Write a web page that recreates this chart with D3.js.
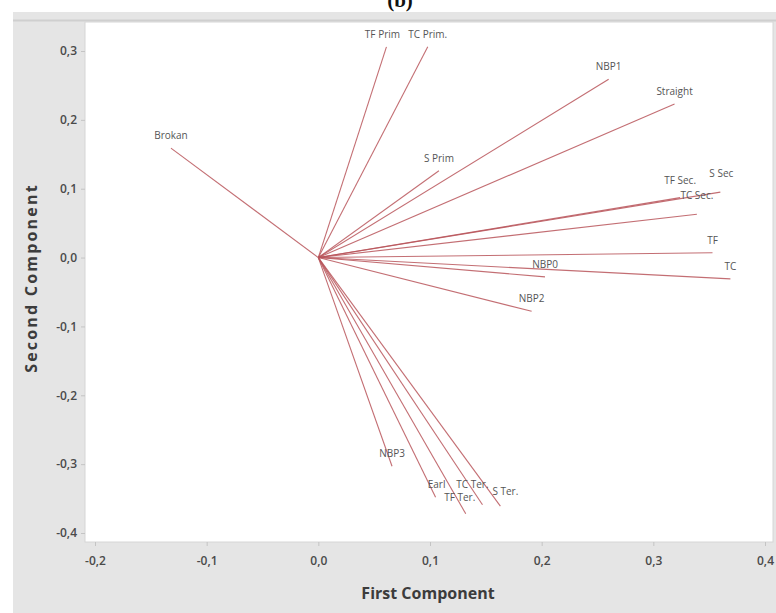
<!DOCTYPE html>
<html>
<head>
<meta charset="utf-8">
<script src="https://cdn.jsdelivr.net/npm/d3@7"></script>
<style>
  body { margin: 0; background: #fff; }
  svg { display: block; }
</style>
</head>
<body>
<svg id="chart" width="776" height="613"></svg>
<script>
// Loading plot: variable loadings on the first two principal components
const variables = ["TF Prim", "TC Prim.", "NBP1", "Straight", "Brokan", "S Prim",
  "TF Sec.", "S Sec", "TC Sec.", "TF", "TC", "NBP0", "NBP2", "NBP3",
  "Earl", "TF Ter.", "TC Ter.", "S Ter."];
const firstComponent = [0.061, 0.098, 0.260, 0.319, -0.132, 0.108,
  0.324, 0.360, 0.339, 0.353, 0.369, 0.203, 0.191, 0.066,
  0.105, 0.132, 0.147, 0.163];
const secondComponent = [0.306, 0.306, 0.259, 0.223, 0.159, 0.126,
  0.087, 0.095, 0.063, 0.007, -0.031, -0.028, -0.078, -0.303,
  -0.348, -0.372, -0.359, -0.361];
const xTicks = [-0.2, -0.1, 0.0, 0.1, 0.2, 0.3, 0.4];
const yTicks = [-0.4, -0.3, -0.2, -0.1, 0.0, 0.1, 0.2, 0.3];

const svg = d3.select("#chart");
const W = 776, H = 613;
const plot = { left: 85, top: 22, right: 773, bottom: 542 };

const x = d3.scaleLinear().domain([-0.2, 0.4]).range([95, 765]);
const y = d3.scaleLinear().domain([-0.4, 0.3]).range([533, 51]);

const fmt = d => (d < 0 ? "-" : "") + Math.abs(d).toFixed(1).replace(".", ",");

// outer frame
svg.append("rect").attr("x", 0).attr("y", 0).attr("width", W).attr("height", H).attr("fill", "#fff");
svg.append("rect").attr("x", 13).attr("y", 12).attr("width", W - 13).attr("height", H - 12)
  .attr("fill", "#e5e5e5");
svg.append("line").attr("x1", 13).attr("x2", W).attr("y1", 20.5).attr("y2", 20.5)
  .attr("stroke", "#cfcfcf").attr("stroke-width", 2);

// plot area
svg.append("rect")
  .attr("x", plot.left).attr("y", plot.top)
  .attr("width", plot.right - plot.left).attr("height", plot.bottom - plot.top)
  .attr("fill", "#fff").attr("stroke", "#d6d6d6").attr("stroke-width", 1);

// title
svg.append("text").attr("x", 400).attr("y", 7)
  .attr("text-anchor", "middle")
  .attr("font-family", "Liberation Serif, Times New Roman, serif")
  .attr("font-weight", "bold").attr("font-size", 21).attr("fill", "#111")
  .text("(b)");

// axes
const yAxis = svg.append("g").attr("transform", `translate(${plot.left},0)`)
  .call(d3.axisLeft(y).tickValues(yTicks).tickFormat(fmt).tickSize(4).tickPadding(4));
const xAxis = svg.append("g").attr("transform", `translate(0,${plot.bottom})`)
  .call(d3.axisBottom(x).tickValues(xTicks).tickFormat(fmt).tickSize(4).tickPadding(10));
[xAxis, yAxis].forEach(g => {
  g.select(".domain").remove();
  g.selectAll(".tick line").attr("stroke", "#c4c4c4");
  g.selectAll(".tick text")
    .attr("font-family", "Open Sans, sans-serif")
    .attr("font-size", 12).attr("font-weight", 600).attr("fill", "#4a4a4a");
});

// axis titles
svg.append("text")
  .attr("transform", "translate(37,278) rotate(-90)")
  .attr("text-anchor", "middle")
  .attr("font-family", "Open Sans, sans-serif")
  .attr("font-weight", "bold").attr("font-size", 16).attr("letter-spacing", 2.2)
  .attr("fill", "#3c3c3c")
  .text("Second Component");
svg.append("text")
  .attr("x", 428).attr("y", 599)
  .attr("text-anchor", "middle")
  .attr("font-family", "Open Sans, sans-serif")
  .attr("font-weight", "bold").attr("font-size", 16).attr("fill", "#3c3c3c")
  .text("First Component");

// loading vectors
const loadings = variables.map((name, i) => ({ name, pc1: firstComponent[i], pc2: secondComponent[i] }));

svg.append("g").selectAll("line").data(loadings).join("line")
  .attr("x1", x(0)).attr("y1", y(0))
  .attr("x2", d => x(d.pc1)).attr("y2", d => y(d.pc2))
  .attr("stroke", "#b9555a").attr("stroke-width", 1.1).attr("stroke-opacity", 0.85);

// small nudges so crowded labels stay readable
const nudge = {
  "TF Prim": [-4, 0],
  "TC Sec.": [0, -6],
  "S Sec": [1, -6],
  "TF Sec.": [0, -5],
  "Earl": [1, 0],
  "TF Ter.": [-6, -4],
  "TC Ter.": [-10, -8],
  "S Ter.": [5, -2]
};

svg.append("g").selectAll("text").data(loadings).join("text")
  .attr("x", d => x(d.pc1) + (nudge[d.name] ? nudge[d.name][0] : 0))
  .attr("y", d => y(d.pc2) - 9 + (nudge[d.name] ? nudge[d.name][1] : 0))
  .attr("text-anchor", "middle")
  .attr("font-family", "Open Sans, sans-serif")
  .attr("font-size", 10).attr("fill", "#555")
  .text(d => d.name);
</script>
</body>
</html>
